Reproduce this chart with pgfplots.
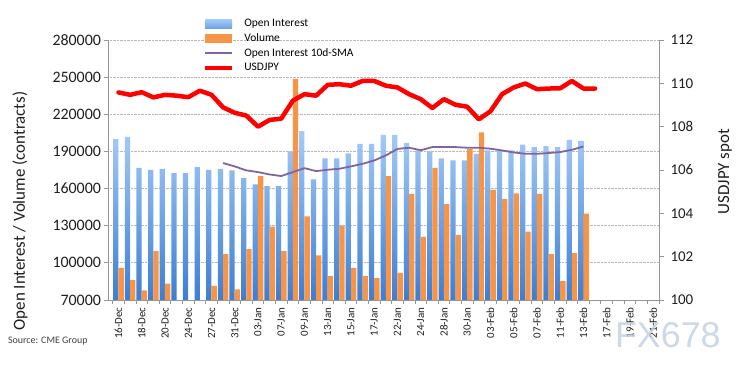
\documentclass[border=0pt]{standalone}
\usepackage{pgfplots}
\pgfplotsset{compat=1.18}
\usepackage{pgfplotstable}
\usepackage{fontspec}
\setmainfont{Carlito}
\newfontfamily\wmfont{Liberation Sans}
\definecolor{oitop}{RGB}{165,203,248}
\definecolor{oibot}{RGB}{60,126,212}
\definecolor{volc}{RGB}{247,148,70}
\definecolor{smac}{RGB}{128,100,162}
\definecolor{axc}{RGB}{150,150,150}
\definecolor{gridc}{RGB}{185,185,185}
\definecolor{txt}{RGB}{30,30,30}
\definecolor{wm}{RGB}{192,206,226}

\pgfplotstableread{
x oi
0 200200
1 201800
2 176800
3 175000
4 176000
5 172500
6 172500
7 177400
8 175000
9 176000
10 174700
11 168500
12 163400
13 161900
14 161900
15 190000
16 206400
17 167400
18 184400
19 184400
20 188400
21 196200
22 196200
23 203400
24 203400
25 197000
26 190800
27 190000
28 184400
29 182700
30 182700
31 188100
32 190800
33 190800
34 190800
35 195400
36 193500
37 194300
38 193500
39 199400
40 198600
}\oitable

\pgfplotstableread{
x vol
0 96000
1 86000
2 77700
3 109400
4 83300
8 81400
9 107000
10 78500
11 111000
12 170000
13 129200
14 109400
15 248500
16 137500
17 106000
18 89200
19 130000
20 96000
21 89200
22 87600
23 170000
24 91900
25 155700
26 120900
27 176800
28 147400
29 122500
30 191900
31 205300
32 158900
33 151400
34 156200
35 125200
36 155700
37 107000
38 85200
39 107800
40 139700
}\voltable

\pgfplotstableread{
x sma
9 180600
10 177900
11 174700
12 173300
13 171400
14 170100
15 173300
16 176500
17 174100
18 175200
19 176000
20 177900
21 180000
22 182700
23 186800
24 192000
25 193000
26 191000
27 193500
28 193500
29 193500
30 193000
31 193000
32 192200
33 190800
34 189200
35 188100
36 188100
37 188700
38 189500
39 191300
40 194000
}\smatable

\pgfplotstableread{
x px
0 109.58
1 109.47
2 109.59
3 109.35
4 109.47
5 109.43
6 109.36
7 109.66
8 109.47
9 108.89
10 108.64
11 108.51
12 108.00
13 108.31
14 108.37
15 109.20
16 109.50
17 109.43
18 109.93
19 109.96
20 109.89
21 110.11
22 110.11
23 109.89
24 109.81
25 109.50
26 109.27
27 108.86
28 109.27
29 109.01
30 108.92
31 108.34
32 108.71
33 109.50
34 109.81
35 109.99
36 109.73
37 109.76
38 109.77
39 110.11
40 109.76
41 109.76
}\jpytable

\begin{document}
\begin{tikzpicture}
\path[use as bounding box] (-108.5bp,-71bp) rectangle (636.5bp,300bp);
\begin{axis}[
  scale only axis, width=550.5bp, height=260bp,
  at={(0,0)}, anchor=south west,
  xmin=-0.86, xmax=46.5, ymin=70000, ymax=280000,
  scaled y ticks=false,
  axis x line*=bottom, axis y line*=left,
  axis line style={axc, line width=0.8bp},
  tick align=outside, major tick length=4bp, minor tick length=4bp,
  tick style={axc, line width=0.8bp},
  xtick={0,2,...,46},
  xticklabels={16-Dec,18-Dec,20-Dec,24-Dec,27-Dec,31-Dec,03-Jan,07-Jan,09-Jan,13-Jan,15-Jan,17-Jan,22-Jan,24-Jan,28-Jan,30-Jan,03-Feb,05-Feb,07-Feb,11-Feb,13-Feb,17-Feb,19-Feb,21-Feb},
  minor xtick={-0.5,0.5,...,46.5},
  major x tick style={draw=none},
  xticklabel style={rotate=90, anchor=east, font=\fontsize{11}{12}\selectfont, text=txt},
  ytick={70000,100000,130000,160000,190000,220000,250000,280000},
  yticklabels={70000,100000,130000,160000,190000,220000,250000,280000},
  yticklabel style={font=\fontsize{16}{18}\selectfont, text=txt},
  ymajorgrids, major grid style={gridc, densely dotted, line width=0.8bp},
  ylabel={Open Interest / Volume (contracts)},
  every axis y label/.style={at={(axis description cs:-0.1608,0.342)}, rotate=90, anchor=center, font=\fontsize{17}{19}\selectfont, text=txt},
  legend style={draw=none, fill=none, at={(axis description cs:0.171,1.0885)}, anchor=north west,
    font=\fontsize{11.5}{13}\selectfont, inner sep=0pt, row sep=1.5bp, column sep=8bp},
  legend cell align=left,
]
\addplot[ybar, bar width=5.3bp, bar shift=-2.65bp, draw=none, top color=oitop, bottom color=oibot,
  legend image code/.code={\fill[top color=oitop, bottom color=oibot!50!oitop] (0bp,-4.5bp) rectangle (27bp,4.5bp);}]
  table[x=x,y=oi]{\oitable};
\addlegendentry{Open Interest}
\addplot[ybar, bar width=5.3bp, bar shift=2.65bp, draw=none, fill=volc,
  legend image code/.code={\fill[volc] (0bp,-4.5bp) rectangle (27bp,4.5bp);}]
  table[x=x,y=vol]{\voltable};
\addlegendentry{Volume}
\addplot[smac, line width=1.8bp, line join=round, mark=none,
  legend image code/.code={\draw[smac, line width=1.8bp] (0bp,0bp) -- (27bp,0bp);}]
  table[x=x,y=sma]{\smatable};
\addlegendentry{Open Interest 10d-SMA}
\addlegendimage{red, line width=4.5bp, legend image code/.code={\draw[red, line width=4.5bp] (0bp,0bp) -- (27bp,0bp);}}
\addlegendentry{USDJPY}
\end{axis}
\begin{axis}[
  scale only axis, width=550.5bp, height=260bp,
  at={(0,0)}, anchor=south west,
  xmin=-0.86, xmax=46.5, ymin=100, ymax=112,
  axis x line=none, xtick=\empty, axis y line*=right,
  axis line style={axc, line width=0.8bp},
  tick align=outside, major tick length=5bp,
  tick style={axc, line width=0.8bp},
  ytick={100,102,104,106,108,110,112},
  yticklabels={100,102,104,106,108,110,112},
  yticklabel style={font=\fontsize{15}{17}\selectfont, text=txt, xshift=3bp},
  ylabel={USDJPY spot},
  every axis y label/.style={at={(axis description cs:1.12,0.494)}, rotate=90, anchor=center, font=\fontsize{17}{19}\selectfont, text=txt},
]
\addplot[red, line width=4.5bp, line join=round, line cap=round, mark=none] table[x=x,y=px]{\jpytable};
\end{axis}
\node[anchor=west, font=\fontsize{10}{12}\selectfont, text=txt!85] at (-104bp,-41.5bp) {Source: CME Group};
\node[anchor=west, font=\wmfont\fontsize{36}{38}\selectfont, text=wm, opacity=0.8] at (503bp,-35bp) {FX678};
\end{tikzpicture}
\end{document}
